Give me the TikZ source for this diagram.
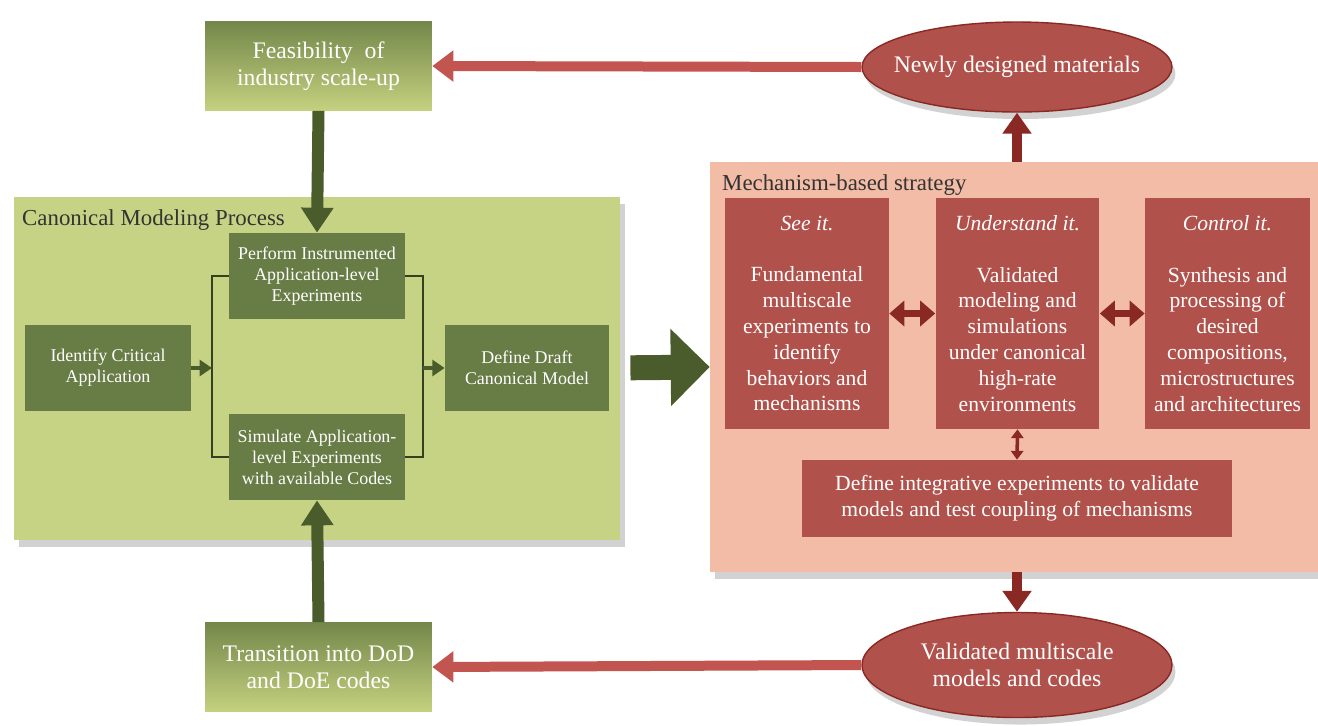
\documentclass[tikz,border=0pt]{standalone}
\usepackage{fontspec}
\setmainfont{Liberation Serif}
\usepackage{tikz}
\usetikzlibrary{arrows.meta,shapes.geometric,shadows}
\usepackage{xcolor}
\definecolor{leaf}{HTML}{C6D384}
\definecolor{olive}{HTML}{687C45}
\definecolor{gtop}{HTML}{74874A}
\definecolor{gbot}{HTML}{C4D17F}
\definecolor{forest}{HTML}{4A5C2B}
\definecolor{salmon}{HTML}{F3BCA6}
\definecolor{brick}{HTML}{B0524B}
\definecolor{maroon}{HTML}{8A2924}
\definecolor{rosy}{HTML}{C25550}
\tikzset{
  frame/.style={fill=#1,draw=none,drop shadow={opacity=0.35,shadow xshift=3pt,shadow yshift=-4pt}},
  title/.style={anchor=north west,text=black!80,font=\fontsize{13}{15}\selectfont},
  gradbox/.style={top color=gtop,bottom color=gbot,draw=none,text=white,align=center,
    minimum width=4.54cm,minimum height=1.78cm,font=\fontsize{13.5}{15.3}\selectfont},
  greenbox/.style={fill=olive,draw=none,text=white,align=center,inner sep=1pt,
    minimum height=1.72cm,font=\fontsize{10.2}{11.9}\selectfont},
  redbox/.style={fill=brick,draw=none,text=white,align=center,inner sep=1pt,
    minimum width=3.28cm,minimum height=4.62cm,font=\fontsize{12.3}{14.7}\selectfont},
  blob/.style={ellipse,fill=brick,draw=maroon,line width=0.8pt,text=white,align=center,
    inner xsep=-8pt,inner ysep=1pt,minimum width=6.2cm,font=\fontsize{13.5}{15.3}\selectfont,
    drop shadow={opacity=0.35,shadow xshift=2pt,shadow yshift=-4pt}},
  fatgreen/.style={draw=forest,line width=0.24cm,-{Triangle[length=0.5cm,width=0.62cm]}},
  fatred/.style={draw=rosy,line width=0.2cm,-{Triangle[length=0.42cm,width=0.6cm]}},
  darkred/.style={draw=maroon,line width=0.2cm,-{Triangle[length=0.42cm,width=0.56cm]}},
  twoway/.style={draw=maroon,line width=0.14cm,{Triangle[length=0.3cm,width=0.5cm]}-{Triangle[length=0.3cm,width=0.5cm]}},
  thinline/.style={draw=forest!70!black,line width=1pt}
}
\begin{document}
\begin{tikzpicture}[x=0.02cm,y=-0.02cm]
\useasboundingbox (0,0) rectangle (1318,725);
\fill[white] (0,0) rectangle (1318,725);

\node[frame=leaf,minimum width=12.12cm,minimum height=6.86cm] (canon) at (317,368.5) {};
\node[title] at (16,203) {Canonical Modeling Process};
\node[frame=salmon,minimum width=12.16cm,minimum height=8.2cm] (mech) at (1014,367) {};
\node[title] at (716,168) {Mechanism-based strategy};

\node[gradbox] (feas) at (318.5,66) {Feasibility\ \ of\\industry scale-up};
\node[gradbox] (trans) at (318.5,667) {Transition into DoD\\and DoE codes};

\node[greenbox,minimum width=3.32cm] (ident) at (108,368) {Identify Critical\\Application};
\node[greenbox,minimum width=3.52cm] (perf) at (317,276) {Perform Instrumented\\Application-level\\Experiments};
\node[greenbox,minimum width=3.52cm] (simu) at (317,457) {Simulate Application-\\level Experiments\\with available Codes};
\node[greenbox,minimum width=3.28cm] (draft) at (527,368) {Define Draft\\Canonical Model};

\node[redbox,minimum width=3.28cm] (see) at (807,313.5) {\textit{See it.}\\[14.7pt]Fundamental\\multiscale\\experiments to\\identify\\behaviors and\\mechanisms};
\node[redbox] (under) at (1017.5,313.5) {\textit{Understand it.}\\[14.7pt]Validated\\modeling and\\simulations\\under canonical\\high-rate\\environments};
\node[redbox,minimum width=3.3cm] (ctrl) at (1227.5,313.5) {\textit{Control it.}\\[14.7pt]Synthesis and\\processing of\\desired\\compositions,\\microstructures\\and architectures};
\node[redbox,minimum width=8.6cm,minimum height=1.54cm] (integ) at (1017,498.5) {Define integrative experiments to validate\\models and test coupling of mechanisms};

\node[blob,minimum height=1.8cm] (newmat) at (1017,67) {Newly designed materials};
\node[blob,minimum height=2.1cm] (valid) at (1017,665) {Validated multiscale\\models and codes};

\coordinate (lsplit) at (212,368);
\coordinate (rsplit) at (423,368);
\draw[thinline] (perf.west) -- (perf.west -| lsplit) -- (simu.west -| lsplit) -- (simu.west);
\draw[thinline] (perf.east) -- (perf.east -| rsplit) -- (simu.east -| rsplit) -- (simu.east);
\draw[draw=forest,line width=2.4pt,-{Triangle[length=7pt,width=9pt]}] (ident.east) -- (lsplit);
\draw[draw=forest,line width=2.4pt,-{Triangle[length=7pt,width=9pt]}] (rsplit) -- (draft.west);

\draw[fatgreen] (feas.south) -- (perf.north);
\draw[fatgreen] (trans.north) -- (simu.south);
\draw[draw=forest,line width=0.5cm,shorten <=12pt,-{Triangle[length=0.78cm,width=1.5cm]}] (draft.east) -- (mech.west);

\draw[fatred] (newmat.west) -- (feas.east);
\draw[fatred] (valid.west) -- (trans.east);
\draw[darkred] (mech.north -| newmat.south) -- (newmat.south);
\draw[darkred] (mech.south -| valid.north) -- (valid.north);

\draw[twoway] (see.east) -- (under.west);
\draw[twoway] (under.east) -- (ctrl.west);
\draw[draw=maroon,line width=2pt,{Triangle[length=5pt,width=7pt]}-{Triangle[length=5pt,width=7pt]}] (under.south) -- (integ.north);
\end{tikzpicture}
\end{document}
